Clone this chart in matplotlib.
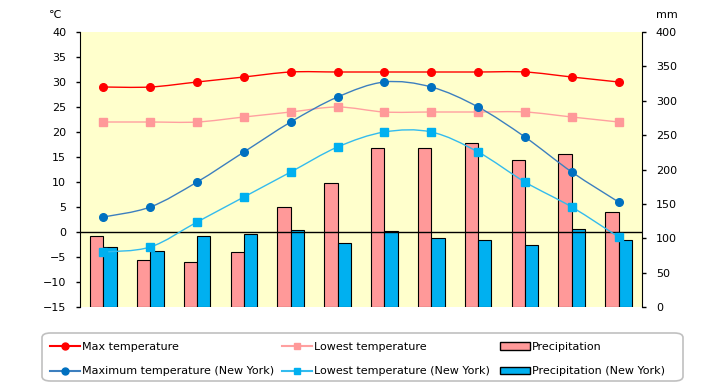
import numpy as np
import matplotlib.pyplot as plt
from matplotlib.path import Path
from matplotlib.patches import PathPatch, Patch, FancyBboxPatch
from matplotlib.lines import Line2D

# Datos
meses = ['Jan', 'Feb', 'Mar', 'Apr', 'may', 'Jun', 'Jul', 'Aug', 'Sep', 'Oct', 'Nov', 'Dec']
temp_max = [29, 29, 30, 31, 32, 32, 32, 32, 32, 32, 31, 30]
temp_min = [22, 22, 22, 23, 24, 25, 24, 24, 24, 24, 23, 22]
temp_max_ny = [3, 5, 10, 16, 22, 27, 30, 29, 25, 19, 12, 6]
temp_min_ny = [-4, -3, 2, 7, 12, 17, 20, 20, 16, 10, 5, -1]
precip = [104, 69, 66, 80, 146, 180, 231, 232, 239, 214, 223, 138]
precip_ny = [87, 82, 103, 106, 112, 93, 111, 101, 98, 90, 113, 98]


def curva_suave(ax, ys, color, lw):
    # linea suavizada tipo Excel (bezier entre los puntos)
    pts = np.column_stack([np.arange(len(ys)), ys]).astype(float)
    ext = np.vstack([pts[0], pts, pts[-1]])
    verts = [tuple(pts[0])]
    codes = [Path.MOVETO]
    for i in range(len(pts) - 1):
        p0, p1, p2, p3 = ext[i], ext[i + 1], ext[i + 2], ext[i + 3]
        c1 = p1 + (p2 - p0) / 6
        c2 = p2 - (p3 - p1) / 6
        verts += [tuple(c1), tuple(c2), tuple(p2)]
        codes += [Path.CURVE4] * 3
    ax.add_patch(PathPatch(Path(verts, codes), fill=False, edgecolor=color, lw=lw, zorder=3))


fig = plt.figure(figsize=(7.2, 3.85), dpi=100)
ax2 = fig.add_axes([80 / 720, 78 / 385, 562 / 720, 275 / 385])
ax = ax2.twinx()
ax2.yaxis.tick_right()
ax.yaxis.tick_left()
ax.set_zorder(ax2.get_zorder() + 1)
ax.patch.set_visible(False)
ax2.set_facecolor('#FFFFCC')

x = np.arange(len(meses))
w = 0.285
ax2.bar(x - w / 2, precip, w, color='#FF9999', edgecolor='black', linewidth=0.8)
ax2.bar(x + w / 2, precip_ny, w, color='#00B0F0', edgecolor='black', linewidth=0.8)
ax2.set_ylim(0, 400)
ax2.set_yticks(range(0, 401, 50))

ax.axhline(0, color='black', lw=1, zorder=2)
curva_suave(ax, temp_max, '#FF0000', 1.0)
curva_suave(ax, temp_min, '#FFA0A0', 1.0)
curva_suave(ax, temp_max_ny, '#3C7FBF', 1.0)
curva_suave(ax, temp_min_ny, '#33BBEE', 1.0)
ax.plot(x, temp_max, 'o', color='#FF0000', ms=5.5, zorder=4)
ax.plot(x, temp_min, 's', color='#FF9999', ms=5.5, zorder=4)
ax.plot(x, temp_max_ny, 'o', color='#0070C0', ms=5.5, zorder=4)
ax.plot(x, temp_min_ny, 's', color='#00B0F0', ms=5.5, zorder=4)
ax.set_ylim(-15, 40)
ax.set_yticks(range(-15, 41, 5))
ax.set_xlim(-0.5, len(meses) - 0.5)
ax2.set_xlim(-0.5, len(meses) - 0.5)
ax2.set_xticks(x)
ax2.set_xticklabels(meses)

for a in (ax, ax2):
    for s in a.spines.values():
        s.set_visible(False)
    a.tick_params(axis='y', length=3, width=1, labelsize=8, pad=7)
    a.tick_params(axis='x', length=0, labelsize=8, pad=8)
ax.spines['left'].set_visible(True)
ax2.spines['right'].set_visible(True)
ax.set_xticks([])

fig.text(55 / 720, 1 - 15 / 385, '℃', fontsize=8, ha='center', va='center')
fig.text(667 / 720, 1 - 15 / 385, 'mm', fontsize=8, ha='center', va='center')

# Leyenda: marco redondeado y tres columnas
marco = FancyBboxPatch((42 / 720, 4 / 385), 641 / 720, 48 / 385,
                       boxstyle='round,pad=0,rounding_size=0.012',
                       transform=fig.transFigure, facecolor='white',
                       edgecolor='#C0C0C0', linewidth=1.2)
fig.patches.append(marco)

columnas = [
    (50, [Line2D([], [], color='#FF0000', marker='o', ms=5),
          Line2D([], [], color='#3C7FBF', marker='o', ms=5, mfc='#0070C0', mec='#0070C0')],
     ['Max temperature', 'Maximum temperature (New York)']),
    (282, [Line2D([], [], color='#FFA0A0', marker='s', ms=5, mfc='#FF9999', mec='#FF9999'),
           Line2D([], [], color='#33BBEE', marker='s', ms=5, mfc='#00B0F0', mec='#00B0F0')],
     ['Lowest temperature', 'Lowest temperature (New York)']),
    (500, [Patch(facecolor='#FF9999', edgecolor='black', linewidth=1),
           Patch(facecolor='#00B0F0', edgecolor='black', linewidth=1)],
     ['Precipitation', 'Precipitation (New York)']),
]
for x0, hs, labs in columnas:
    fig.legend(hs, labs, loc='upper left', bbox_to_anchor=(x0 / 720, 1 - 342 / 385),
               fontsize=8, frameon=False, handlelength=2.7, handletextpad=0.2,
               labelspacing=1.3, borderpad=0, borderaxespad=0)

plt.savefig('out.png', dpi=100)
